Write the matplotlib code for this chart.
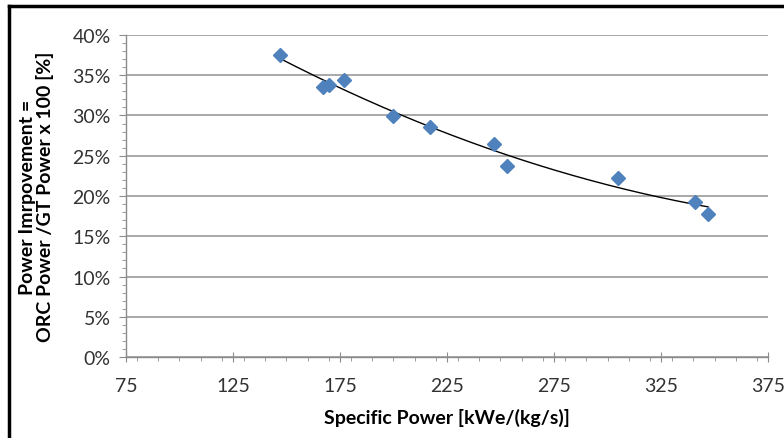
import numpy as np
import matplotlib.pyplot as plt
from matplotlib.lines import Line2D
from matplotlib.ticker import MultipleLocator, FuncFormatter

# specific power [kWe/(kg/s)] and power improvement [%]
spec_power = [147, 167, 170, 177, 200, 217, 247, 253, 305, 341, 347]
improvement = [37.5, 33.5, 33.8, 34.4, 29.9, 28.6, 26.5, 23.7, 22.2, 19.3, 17.8]

x_ticks = [75, 125, 175, 225, 275, 325, 375]

plt.rcParams['font.family'] = ['Lato', 'DejaVu Sans']

fig = plt.figure(figsize=(7.84, 4.39), dpi=100)
ax = fig.add_axes([0.1607, 0.1845, 0.8189, 0.7335])

x = np.array(spec_power)
y = np.array(improvement)

# 2nd order polynomial trendline
coef = np.polyfit(x, y, 2)
xf = np.linspace(x.min(), x.max(), 200)
yf = np.polyval(coef, xf)
ax.plot(xf, yf, color='black', lw=1.0, zorder=2)

ax.plot(x, y, 'D', color='#4F81BD', ms=7, mec='#4F81BD', zorder=3)

ax.set_xlim(75, 375)
ax.set_ylim(0, 40)
ax.set_xticks(x_ticks)
ax.xaxis.set_minor_locator(MultipleLocator(10))
ax.yaxis.set_major_locator(MultipleLocator(5))
ax.yaxis.set_minor_locator(MultipleLocator(1))
ax.yaxis.set_major_formatter(FuncFormatter(lambda v, p: '%d%%' % v))

ax.grid(axis='y', which='major', color='#999999', lw=1.2)
ax.set_axisbelow(True)
for s in ['top', 'right']:
    ax.spines[s].set_visible(False)
for s in ['left', 'bottom']:
    ax.spines[s].set_color('#8c8c8c')
    ax.spines[s].set_linewidth(1.0)

ax.tick_params(axis='both', which='major', labelsize=14, colors='#8c8c8c',
               labelcolor='#333333', length=5)
ax.tick_params(axis='x', which='major', direction='inout', length=7, pad=11)
ax.tick_params(axis='y', which='major', pad=6)
ax.tick_params(axis='both', which='minor', colors='#8c8c8c', length=3)

ax.set_xlabel('Specific Power [kWe/(kg/s)]', fontsize=14, fontweight='bold', labelpad=10)
ax.set_ylabel('Power Imrpovement =\nORC Power /GT Power x 100 [%]', fontsize=14,
              fontweight='bold', labelpad=13, linespacing=1.05)

# black frame pieces on top and left edges
fig.add_artist(Line2D([9 / 784, 1], [1 - 7 / 439, 1 - 7 / 439], color='black', lw=2.5,
                      transform=fig.transFigure))
fig.add_artist(Line2D([9 / 784, 9 / 784], [0, 1 - 7 / 439], color='black', lw=2.5,
                      transform=fig.transFigure))

fig.savefig('out.png', dpi=100)
